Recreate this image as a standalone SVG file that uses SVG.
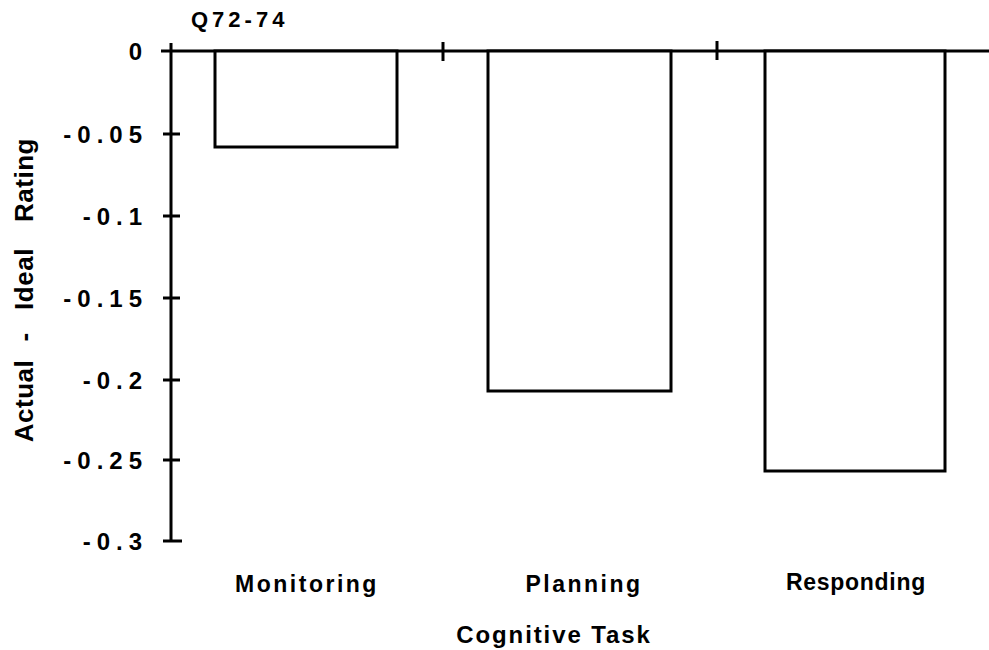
<svg xmlns="http://www.w3.org/2000/svg" width="989" height="650" viewBox="0 0 989 650">
<style>
.ax{stroke:#000;stroke-width:3;fill:none;stroke-linecap:butt}
.bar{stroke:#000;stroke-width:3;fill:#fff}
.tk{font-family:"Liberation Sans",Arial,sans-serif;font-weight:bold;font-size:24px;fill:#000;letter-spacing:6px;text-anchor:end}
.lb{font-family:"Liberation Sans",Arial,sans-serif;font-weight:bold;font-size:23px;fill:#000;text-anchor:middle}
</style>
<rect width="989" height="650" fill="#fff"/>
<text x="191" y="27" style="font-family:'Liberation Sans',Arial,sans-serif;font-weight:bold;font-size:22px;letter-spacing:4px">Q72-74</text>
<g id="axes">
<line class="ax" x1="171" y1="43" x2="171" y2="542"/>
<line class="ax" x1="161" y1="51" x2="989" y2="51"/>
<line class="ax" x1="163" y1="134" x2="180" y2="134"/>
<line class="ax" x1="163" y1="216" x2="180" y2="216"/>
<line class="ax" x1="163" y1="298" x2="180" y2="298"/>
<line class="ax" x1="163" y1="380" x2="180" y2="380"/>
<line class="ax" x1="163" y1="460" x2="180" y2="460"/>
<line class="ax" x1="163" y1="541" x2="182" y2="541"/>
<line class="ax" x1="443" y1="42" x2="443" y2="61"/>
<line class="ax" x1="717" y1="41" x2="717" y2="60"/>
</g>
<g id="ticklabels">
<text class="tk" x="148" y="60">0</text>
<text class="tk" x="148" y="143">-0.05</text>
<text class="tk" x="148" y="225">-0.1</text>
<text class="tk" x="148" y="307">-0.15</text>
<text class="tk" x="148" y="389">-0.2</text>
<text class="tk" x="148" y="469">-0.25</text>
<text class="tk" x="148" y="550">-0.3</text>
</g>
<g id="bar-monitoring"><rect class="bar" x="215" y="51" width="182" height="96"/></g>
<g id="bar-planning"><rect class="bar" x="488" y="51" width="183" height="340"/></g>
<g id="bar-responding"><rect class="bar" x="765" y="51" width="180" height="420"/></g>
<g id="labels">
<text class="lb" x="307" y="592" style="letter-spacing:2.5px">Monitoring</text>
<text class="lb" x="584" y="592" style="letter-spacing:2.5px">Planning</text>
<text class="lb" x="856" y="590" style="letter-spacing:0.7px">Responding</text>
<text class="lb" x="554" y="643" style="font-size:24px;letter-spacing:1.9px">Cognitive Task</text>
</g>
<g id="ytitle" style="font-family:'Liberation Sans',Arial,sans-serif;font-weight:bold;font-size:26px;letter-spacing:0.5px" text-anchor="middle">
<text transform="translate(33,401) rotate(-90)">Actual</text>
<text transform="translate(33,337) rotate(-90)">-</text>
<text transform="translate(33,279) rotate(-90)">Ideal</text>
<text transform="translate(33,180) rotate(-90)">Rating</text>
</g>
</svg>
